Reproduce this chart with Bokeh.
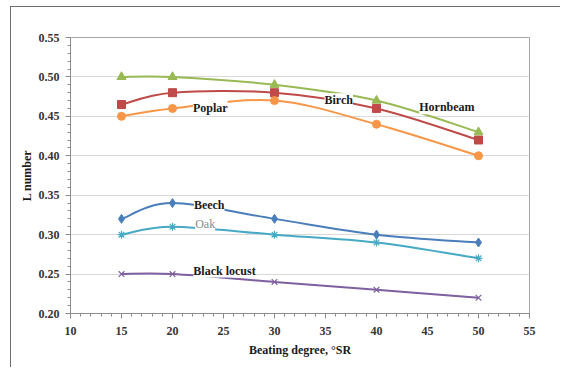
import numpy as np
from bokeh.plotting import figure
from bokeh.models import (Range1d, SingleIntervalTicker, Label, ColumnDataSource,
                          PrintfTickFormatter)
from bokeh.embed import file_html
from bokeh.resources import INLINE

# ---- data ----
beating = [15, 20, 30, 40, 50]
beech = [0.32, 0.34, 0.32, 0.30, 0.29]
birch = [0.465, 0.48, 0.48, 0.46, 0.42]
hornbeam = [0.50, 0.50, 0.49, 0.47, 0.43]
black_locust = [0.25, 0.25, 0.24, 0.23, 0.22]
oak = [0.30, 0.31, 0.30, 0.29, 0.27]
poplar = [0.45, 0.46, 0.47, 0.44, 0.40]

series_names = ["Beech", "Birch", "Hornbeam", "Black locust", "Oak", "Poplar"]
x_ticks = [10, 15, 20, 25, 30, 35, 40, 45, 50, 55]
y_ticks = [0.20, 0.25, 0.30, 0.35, 0.40, 0.45, 0.50, 0.55]

# ---- styles ----
styles = {
    "Beech": dict(color="#4A7EBB", marker="diamond", size=9),
    "Birch": dict(color="#BE4B48", marker="square", size=8),
    "Hornbeam": dict(color="#98B954", marker="triangle", size=9),
    "Black locust": dict(color="#7D60A0", marker="x", size=8),
    "Oak": dict(color="#46AAC5", marker="asterisk", size=8),
    "Poplar": dict(color="#F79646", marker="circle", size=8),
}
values = {"Beech": beech, "Birch": birch, "Hornbeam": hornbeam,
          "Black locust": black_locust, "Oak": oak, "Poplar": poplar}

# label placement (data coords) and look
label_pos = {
    "Poplar": (23.7, 0.461, "#1a1a1a", "bold"),
    "Birch": (36.3, 0.4705, "#1a1a1a", "bold"),
    "Hornbeam": (46.9, 0.4615, "#1a1a1a", "bold"),
    "Beech": (23.6, 0.338, "#1a1a1a", "bold"),
    "Oak": (23.2, 0.314, "#8a8a8a", "normal"),
    "Black locust": (25.1, 0.2545, "#1a1a1a", "bold"),
}

FONT = "Liberation Serif"

p = figure(width=550, height=361, output_backend="svg", toolbar_location=None,
           x_range=Range1d(x_ticks[0], x_ticks[-1]),
           y_range=Range1d(y_ticks[0], y_ticks[-1]),
           min_border_left=59, min_border_right=32, min_border_top=30,
           min_border_bottom=55)
p.styles = {"margin-left": "10px", "margin-top": "6px",
            "border-left": "1px solid #6e6e6e", "border-top": "1px solid #6e6e6e"}
p.outline_line_color = "#a6a6a6"
p.outline_line_width = 1

p.xgrid.visible = False
p.ygrid.grid_line_color = "#d9d9d9"
p.ygrid.grid_line_width = 1

p.xaxis.ticker = SingleIntervalTicker(interval=5, num_minor_ticks=5)
p.yaxis.ticker = SingleIntervalTicker(interval=0.05, num_minor_ticks=5)
p.xaxis.formatter = PrintfTickFormatter(format="%d")
p.yaxis.formatter = PrintfTickFormatter(format="%.2f")

for ax in (p.xaxis, p.yaxis):
    ax.axis_line_color = "#8c8c8c"
    ax.major_tick_line_color = "#8c8c8c"
    ax.minor_tick_line_color = "#8c8c8c"
    ax.major_tick_in = 0
    ax.major_tick_out = 5
    ax.minor_tick_in = 0
    ax.minor_tick_out = 3
    ax.major_label_text_font = FONT
    ax.major_label_text_font_style = "bold"
    ax.major_label_text_font_size = "12px"
    ax.major_label_text_color = "#333333"
    ax.axis_label_text_font = FONT
    ax.axis_label_text_font_style = "bold"
    ax.axis_label_text_font_size = "12px"
    ax.axis_label_text_color = "#1a1a1a"

p.xaxis.axis_label = "Beating degree, °SR"
p.yaxis.axis_label = "L number"
p.xaxis.major_label_standoff = 8
p.xaxis.axis_label_standoff = 5
p.yaxis.major_label_standoff = 6
p.yaxis.axis_label_standoff = 2


def smooth_segments(xs, ys, t=1.0 / 6.0):
    xs = np.asarray(xs, float)
    ys = np.asarray(ys, float)
    n = len(xs)
    segs = dict(x0=[], y0=[], x1=[], y1=[], cx0=[], cy0=[], cx1=[], cy1=[])
    for i in range(n - 1):
        pm = max(i - 1, 0)
        pp = min(i + 2, n - 1)
        c0x = xs[i] + (xs[i + 1] - xs[pm]) * t
        c0y = ys[i] + (ys[i + 1] - ys[pm]) * t
        c1x = xs[i + 1] - (xs[pp] - xs[i]) * t
        c1y = ys[i + 1] - (ys[pp] - ys[i]) * t
        segs["x0"].append(xs[i]); segs["y0"].append(ys[i])
        segs["x1"].append(xs[i + 1]); segs["y1"].append(ys[i + 1])
        segs["cx0"].append(c0x); segs["cy0"].append(c0y)
        segs["cx1"].append(c1x); segs["cy1"].append(c1y)
    return segs


for name in series_names:
    st = styles[name]
    ys = values[name]
    src = ColumnDataSource(smooth_segments(beating, ys))
    p.bezier(x0="x0", y0="y0", x1="x1", y1="y1", cx0="cx0", cy0="cy0",
             cx1="cx1", cy1="cy1", source=src, line_color=st["color"],
             line_width=2)
for name in series_names:
    st = styles[name]
    ys = values[name]
    if st["marker"] in ("x", "asterisk"):
        p.scatter(beating, ys, marker=st["marker"], size=st["size"],
                  line_color=st["color"], line_width=1.2)
    else:
        p.scatter(beating, ys, marker=st["marker"], size=st["size"],
                  fill_color=st["color"], line_color=st["color"])

for name in series_names:
    lx, ly, col, fs = label_pos[name]
    p.add_layout(Label(x=lx, y=ly, text=name, text_align="center",
                       text_baseline="middle", text_font=FONT,
                       text_font_style=fs, text_font_size="12px",
                       text_color=col, background_fill_color="white",
                       background_fill_alpha=1.0))

open("out.html", "w").write(file_html(p, INLINE))
